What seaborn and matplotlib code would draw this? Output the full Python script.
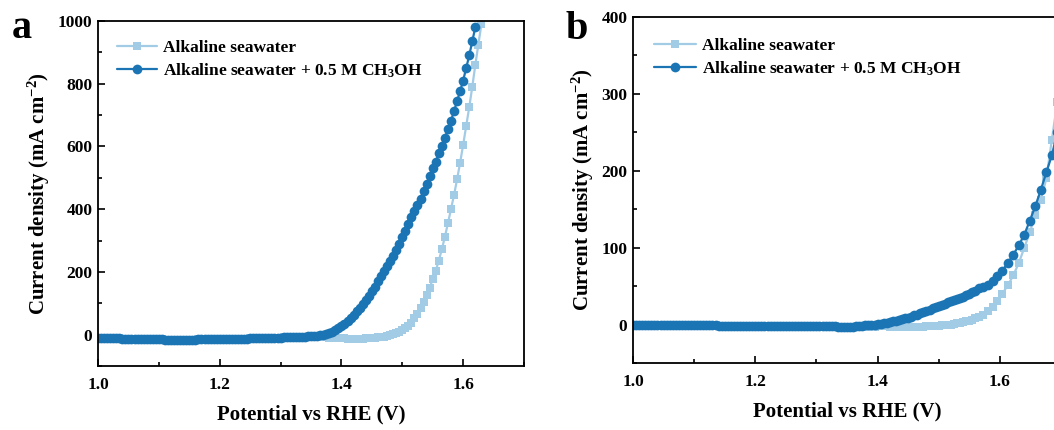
import numpy as np
import pandas as pd
import matplotlib
matplotlib.use("Agg")
import matplotlib.pyplot as plt
import seaborn as sns
from matplotlib.ticker import MultipleLocator, FormatStrFormatter

# ---------------------------------------------------------------- data
# LSV scans, potential step 5 mV starting at 1.000 V vs RHE (mA cm^-2)
SCAN_START = 1.000
SCAN_STEP = 0.005

# (a) full current range
a_seawater_j = [
    -10, -10, -11, -11, -11, -12, -12, -12, -13, -13,   # 1.000-1.045
    -13, -13, -14, -14, -14, -14, -15, -15, -15, -15,   # 1.050-1.095
    -15, -15, -16, -16, -16, -16, -16, -16, -16, -16,   # 1.100-1.145
    -16, -16, -16, -15, -15, -15, -15, -15, -15, -15,   # 1.150-1.195
    -14, -14, -14, -14, -14, -13, -13, -13, -13, -13,   # 1.200-1.245
    -12, -12, -12, -12, -11, -11, -11, -11, -10, -10,   # 1.250-1.295
    -10, -9, -9, -9, -8, -8, -7, -7, -7, -6,            # 1.300-1.345
    -6, -7, -7, -8, -9, -9, -10, -10, -11, -11,         # 1.350-1.395
    -12, -12, -13, -13, -13, -13, -13, -13, -12, -12,   # 1.400-1.445
    -11, -10, -9, -8, -6, -4, -2, 1, 4, 8,              # 1.450-1.495
    14, 21, 28, 38, 52, 67, 85, 104, 127, 150,          # 1.500-1.545
    176, 204, 236, 272, 312, 355, 400, 445, 495, 548,   # 1.550-1.595
    605, 665, 725, 790, 860, 925, 990,                  # 1.600-1.630
]
a_methanol_j = [
    -10, -10, -11, -11, -11, -12, -12, -12, -13, -13,   # 1.000-1.045
    -13, -13, -14, -14, -14, -14, -15, -15, -15, -15,   # 1.050-1.095
    -15, -15, -16, -16, -16, -16, -16, -16, -16, -16,   # 1.100-1.145
    -16, -16, -16, -15, -15, -15, -15, -15, -15, -15,   # 1.150-1.195
    -14, -14, -14, -14, -14, -13, -13, -13, -13, -13,   # 1.200-1.245
    -12, -12, -12, -12, -11, -11, -11, -11, -10, -10,   # 1.250-1.295
    -10, -9, -9, -9, -8, -8, -7, -7, -6, -5,            # 1.300-1.345
    -5, -4, -3, -1, 0, 3, 5, 9, 14, 20,                 # 1.350-1.395
    27, 35, 44, 53, 63, 74, 86, 99, 112, 124,           # 1.400-1.445
    138, 153, 170, 186, 202, 218, 235, 252, 270, 290,   # 1.450-1.495
    312, 332, 353, 374, 394, 414, 434, 458, 480, 505,   # 1.500-1.545
    530, 552, 578, 602, 628, 655, 682, 712, 745, 776,   # 1.550-1.595
    810, 850, 890, 935, 980,                            # 1.600-1.620
]

# (b) low current range: 5 mV points up to 1.560 V, then the recorded tail
b_seawater_j = [
    -1, -1, -1, -1, -1, -1, -1, -1, -1, -1,             # 1.000-1.045
    -1, -1, -1, -1, -1, -1, -1, -1, -1, -1,             # 1.050-1.095
    -1, -1, -1, -1, -1, -1, -1, -1, -2, -2,             # 1.100-1.145
    -2, -2, -2, -2, -2, -2, -2, -2, -2, -2,             # 1.150-1.195
    -2, -2, -2, -2, -2, -2, -2, -2, -2, -2,             # 1.200-1.245
    -2, -2, -2, -2, -2, -2, -2, -2, -2, -2,             # 1.250-1.295
    -2, -2, -2, -2, -2, -2, -2, -3, -3, -3,             # 1.300-1.345
    -3, -3, -3, -3, -3, -3, -3, -3, -3, -3,             # 1.350-1.395
    -2, -2, -2, -2, -3, -3, -3, -3, -3, -3,             # 1.400-1.445
    -3, -3, -3, -3, -3, -3, -2, -2, -2, -2,             # 1.450-1.495
    -2, -1, -1, 0, 0, 1, 2, 2, 3, 4,                    # 1.500-1.545
    5, 6, 8,                                            # 1.550-1.560
]
b_methanol_j = [
    -1, -1, -1, -1, -1, -1, -1, -1, -1, -1,             # 1.000-1.045
    -1, -1, -1, -1, -1, -1, -1, -1, -1, -1,             # 1.050-1.095
    -1, -1, -1, -1, -1, -1, -1, -1, -2, -2,             # 1.100-1.145
    -2, -2, -2, -2, -2, -2, -2, -2, -2, -2,             # 1.150-1.195
    -2, -2, -2, -2, -2, -2, -2, -2, -2, -2,             # 1.200-1.245
    -2, -2, -2, -2, -2, -2, -2, -2, -2, -2,             # 1.250-1.295
    -2, -2, -2, -2, -2, -2, -2, -3, -3, -3,             # 1.300-1.345
    -3, -3, -3, -2, -2, -2, -1, -1, 0, 0,               # 1.350-1.395
    1, 1, 2, 2, 3, 4, 5, 6, 7, 8,                       # 1.400-1.445
    9, 10, 12, 13, 15, 16, 18, 19, 21, 23,              # 1.450-1.495
    24, 26, 27, 29, 30, 32, 33, 35, 36, 38,             # 1.500-1.545
    40, 42, 44,                                         # 1.550-1.560
]
b_tail_potential = [1.566, 1.573, 1.580, 1.588, 1.596, 1.604, 1.613, 1.622,
                    1.631, 1.640, 1.649, 1.658, 1.667, 1.676, 1.685, 1.694]
b_seawater_tail_j = [10, 12, 17, 23, 31, 40, 51, 64, 80, 100, 120, 142, 162, 190, 240, 290]
b_methanol_tail_j = [47, 49, 52, 57, 63, 70, 80, 91, 103, 117, 135, 154, 175, 198, 220, 250]

series_labels = ["Alkaline seawater", "Alkaline seawater + 0.5 M CH$_3$OH"]
x_ticks_label_fmt = "%.1f"

LIGHT = "#a2cbe6"
DARK = "#1b75b4"


def scan_potential(values):
    return np.round(SCAN_START + SCAN_STEP * np.arange(len(values)), 3)


def frame(j_dense, tail_v=(), tail_j=()):
    v = np.concatenate([scan_potential(j_dense), np.asarray(tail_v, float)])
    j = np.concatenate([np.asarray(j_dense, float), np.asarray(tail_j, float)])
    return pd.DataFrame({"potential": v, "current": j})


# ---------------------------------------------------------------- style
sns.set_theme(style="ticks")
plt.rcParams["font.family"] = ["Liberation Serif", "DejaVu Serif"]
plt.rcParams["font.weight"] = "bold"
plt.rcParams["axes.labelweight"] = "bold"
plt.rcParams["mathtext.fontset"] = "custom"
plt.rcParams["mathtext.rm"] = "Liberation Serif:bold"
plt.rcParams["mathtext.it"] = "Liberation Serif:bold"
plt.rcParams["mathtext.bf"] = "Liberation Serif:bold"
plt.rcParams["axes.unicode_minus"] = False
for key in ("text.color", "axes.labelcolor", "xtick.color", "ytick.color",
            "axes.edgecolor"):
    plt.rcParams[key] = "black"

fig = plt.figure(figsize=(10.54, 4.30), dpi=100)
ax_a = fig.add_axes([98 / 1054, 1 - 366 / 430, 426 / 1054, 345 / 430])
ax_b = fig.add_axes([633 / 1054, 1 - 363 / 430, 428 / 1054, 346 / 430])

panels = [
    (ax_a, frame(a_seawater_j), frame(a_methanol_j), (-100, 1000), 200, 100),
    (ax_b, frame(b_seawater_j, b_tail_potential, b_seawater_tail_j),
     frame(b_methanol_j, b_tail_potential, b_methanol_tail_j), (-50, 400), 100, 50),
]

for ax, df_sw, df_me, ylim, ymaj, ymin in panels:
    sns.lineplot(data=df_sw, x="potential", y="current", ax=ax, color=LIGHT,
                 marker="s", markersize=5.5, markeredgewidth=0, linewidth=1.6,
                 errorbar=None, sort=False, label=series_labels[0])
    sns.lineplot(data=df_me, x="potential", y="current", ax=ax, color=DARK,
                 marker="o", markersize=7, markeredgewidth=0, linewidth=1.6,
                 errorbar=None, sort=False, label=series_labels[1])
    ax.set_xlim(1.0, 1.7)
    ax.set_ylim(*ylim)
    ax.xaxis.set_major_locator(MultipleLocator(0.2))
    ax.xaxis.set_minor_locator(MultipleLocator(0.1))
    ax.xaxis.set_major_formatter(FormatStrFormatter(x_ticks_label_fmt))
    ax.yaxis.set_major_locator(MultipleLocator(ymaj))
    ax.yaxis.set_minor_locator(MultipleLocator(ymin))
    ax.tick_params(which="both", direction="in", top=False, right=False,
                   colors="black", width=1.2)
    ax.tick_params(which="major", length=5, labelsize=12.5)
    ax.tick_params(which="minor", length=3)
    ax.tick_params(axis="x", pad=8)
    ax.tick_params(axis="y", pad=4)
    for lab in ax.get_xticklabels() + ax.get_yticklabels():
        lab.set_fontweight("bold")
    for sp in ax.spines.values():
        sp.set_linewidth(1.3)
        sp.set_color("black")
    ax.set_xlabel("Potential vs RHE (V)", fontsize=15, fontweight="bold", labelpad=8)
    ax.set_ylabel("Current density (mA cm$^{-2}$)", fontsize=15, fontweight="bold",
                  labelpad=4)

leg_a = ax_a.legend(loc="upper left", bbox_to_anchor=(0.045, 0.945), frameon=False,
                    fontsize=12.5, handlelength=2.3, handletextpad=0.35,
                    labelspacing=0.3, borderaxespad=0, borderpad=0)
leg_b = ax_b.legend(loc="upper left", bbox_to_anchor=(0.05, 0.94), frameon=False,
                    fontsize=12.5, handlelength=2.4, handletextpad=0.35,
                    labelspacing=0.3, borderaxespad=0, borderpad=0)
for leg in (leg_a, leg_b):
    for t in leg.get_texts():
        t.set_fontweight("bold")
        t.set_color("black")

fig.text(12 / 1054, 1 - 38 / 430, "a", fontsize=29, fontweight="bold", va="baseline")
fig.text(566 / 1054, 1 - 39 / 430, "b", fontsize=29, fontweight="bold", va="baseline")

fig.savefig("out.png", dpi=100)
